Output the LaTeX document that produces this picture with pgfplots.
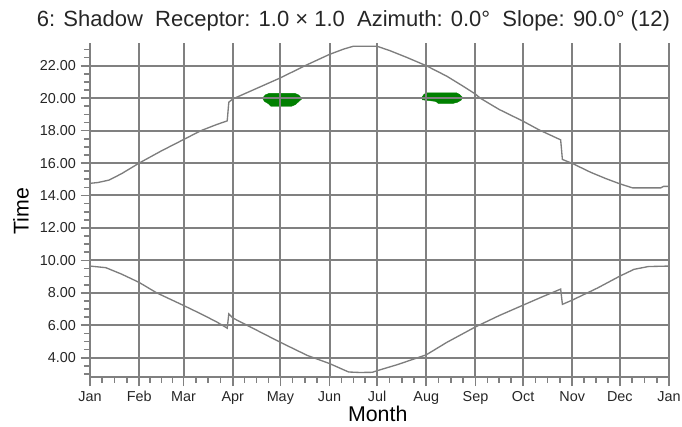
\documentclass[border=0pt]{standalone}
\usepackage{pgfplots}
\pgfplotsset{compat=1.18}
\usepackage{fontspec}
\setmainfont{Liberation Sans}
\definecolor{gridgray}{RGB}{128,128,128}
\definecolor{curvegray}{RGB}{125,125,125}
\definecolor{flicker}{RGB}{0,128,0}
\begin{document}
\begin{tikzpicture}
\useasboundingbox (-67.5pt,-37.725pt) rectangle (444pt,282.525pt);
\begin{axis}[
  at={(0pt,0pt)}, anchor=south west,
  scale only axis, width=434.25pt, height=250.5pt,
  xmin=0, xmax=365, ymin=2.83, ymax=23.42,
  axis lines*=left,
  axis on top,
  axis line style={gridgray, line width=1.5pt},
  xtick={0,31,59,90,120,151,181,212,243,273,304,334,365},
  xticklabels={Jan,Feb,Mar,Apr,May,Jun,Jul,Aug,Sep,Oct,Nov,Dec,Jan},
  minor xtick={7.75,15.5,23.25,38,45,52,66.75,74.5,82.25,97.5,105,112.5,127.75,135.5,143.25,158.5,166,173.5,188.75,196.5,204.25,219.75,227.5,235.25,250.5,258,265.5,280.75,288.5,296.25,311.5,319,326.5,341.75,349.5,357.25},
  ytick={4,6,...,22},
  minor ytick={3,3.5,...,23.1},
  tick align=outside,
  major tick length=7pt,
  minor tick length=4.5pt,
  tick style={gridgray, line width=1.2pt},
  xmajorgrids, ymajorgrids,
  major grid style={gridgray, line width=1.5pt},
  yticklabel style={/pgf/number format/.cd, fixed, fixed zerofill, precision=2, assume math mode=true},
  ticklabel style={font=\fontsize{10.8}{13}\selectfont, text=black!85},
  xticklabel style={anchor=north, text height=1.5ex, text depth=0.2ex, yshift=-0.5pt},
  every axis title shift=0pt,
  title={6: Shadow\ \ Receptor: 1.0 × 1.0\ \ Azimuth: 0.0°\ \ Slope: 90.0° (12)},
  title style={at={(rel axis cs:0.455,1.047)}, anchor=base, font=\fontsize{16.5}{19}\selectfont, text=black!85},
  xlabel={Month},
  ylabel={Time},
  xlabel style={at={(rel axis cs:0.497,-0.112)}, anchor=center, font=\fontsize{16}{19}\selectfont},
  ylabel style={at={(rel axis cs:-0.119,0.496)}, anchor=center, font=\fontsize{16}{19}\selectfont},
  clip=false,
]
% shadow flicker periods
\addplot[fill=flicker, draw=flicker, line width=0.3pt] coordinates {
(108.8,20.0) (110.5,20.2) (113,20.3) (129,20.3) (131.5,20.2) (133.6,19.97)
(131.5,19.78) (129.4,19.6) (127,19.5) (114,19.5) (112.6,19.65) (110,19.8)
} -- cycle;
\addplot[fill=flicker, draw=flicker, line width=0.3pt] coordinates {
(209.2,20.05) (210.6,20.24) (212.5,20.33) (231,20.33) (232.8,20.24) (234.8,20.05)
(234,19.88) (231.7,19.75) (229,19.68) (219.5,19.68) (218,19.8) (212,19.87) (209.5,19.9)
} -- cycle;
% sunset
\addplot[curvegray, line width=1pt, mark=none] coordinates {
(0,14.75) (5,14.8) (12,14.95) (20,15.35) (31,16.0) (45,16.75) (59,17.45) (70,18.0)
(80,18.38) (86.5,18.6) (87.5,19.75) (90,19.95) (105,20.6) (120,21.25) (135.5,22.0)
(151,22.7) (160,23.03) (166,23.2) (181,23.2) (189,22.93) (200,22.5) (212,22.0)
(225,21.35) (235,20.75) (243,20.25) (246,20.0) (258,19.3) (273,18.58) (283,18.05)
(296.7,17.43) (297.8,16.22) (304,15.98) (315.6,15.43) (325,15.05) (334,14.72)
(342,14.47) (359.8,14.47) (361.5,14.56) (365,14.56)
};
% sunrise
\addplot[curvegray, line width=1pt, mark=none] coordinates {
(0,9.65) (10,9.55) (20,9.15) (31,8.64) (42,8.0) (59,7.22) (70,6.7) (80,6.2)
(86.5,5.82) (87.5,6.7) (90,6.45) (105,5.7) (120,4.95) (137,4.14) (151,3.64)
(163,3.12) (170,3.09) (178,3.1) (181,3.2) (194,3.58) (212,4.18) (225,4.95)
(243,5.9) (258,6.6) (273,7.24) (285,7.75) (296.7,8.23) (297.8,7.29) (304,7.55)
(320,8.3) (334,9.03) (343,9.45) (352,9.62) (365,9.65)
};
\end{axis}
\end{tikzpicture}
\end{document}
